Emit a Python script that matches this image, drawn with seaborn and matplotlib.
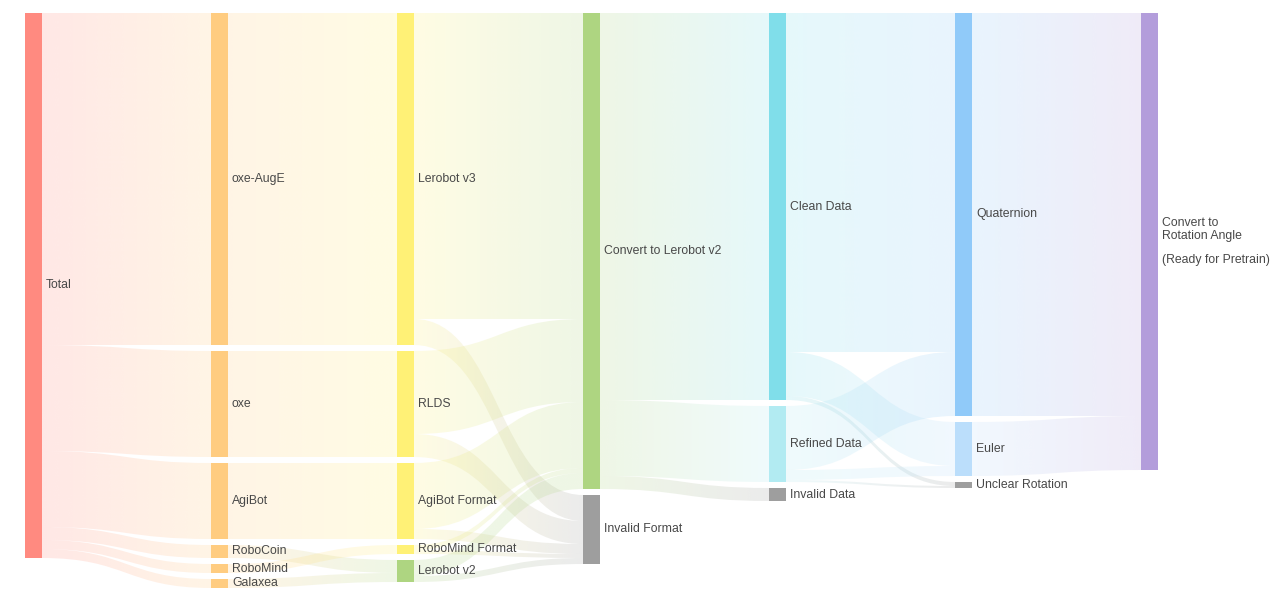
import numpy as np
import matplotlib
matplotlib.use("Agg")
import matplotlib.pyplot as plt
from matplotlib.path import Path
from matplotlib.patches import PathPatch
from matplotlib.colors import to_rgb
import seaborn as sns

# ---------------- data ----------------
col0 = ["Total"]
col1 = ["oxe-AugE", "oxe", "AgiBot", "RoboCoin", "RoboMind", "Galaxea"]
col2 = ["Lerobot v3", "RLDS", "AgiBot Format", "RoboMind Format", "Lerobot v2"]
col3 = ["Convert to Lerobot v2", "Invalid Format"]
col4 = ["Clean Data", "Refined Data", "Invalid Data"]
col5 = ["Quaternion", "Euler", "Unclear Rotation"]
col6 = ["Convert to Rotation Angle"]

node_labels = {"Convert to Rotation Angle": "Convert to\nRotation Angle\n\n(Ready for Pretrain)"}

link_source = ["Total", "Total", "Total", "Total", "Total", "Total",
               "oxe-AugE", "oxe", "AgiBot", "RoboCoin", "RoboMind", "Galaxea",
               "Lerobot v3", "Lerobot v3", "RLDS", "RLDS", "AgiBot Format", "AgiBot Format",
               "RoboMind Format", "RoboMind Format", "Lerobot v2", "Lerobot v2",
               "Convert to Lerobot v2", "Convert to Lerobot v2", "Convert to Lerobot v2",
               "Clean Data", "Clean Data", "Clean Data",
               "Refined Data", "Refined Data", "Refined Data",
               "Quaternion", "Euler"]
link_target = ["oxe-AugE", "oxe", "AgiBot", "RoboCoin", "RoboMind", "Galaxea",
               "Lerobot v3", "RLDS", "AgiBot Format", "Lerobot v2", "RoboMind Format", "Lerobot v2",
               "Convert to Lerobot v2", "Invalid Format", "Convert to Lerobot v2", "Invalid Format",
               "Convert to Lerobot v2", "Invalid Format",
               "Convert to Lerobot v2", "Invalid Format", "Convert to Lerobot v2", "Invalid Format",
               "Clean Data", "Refined Data", "Invalid Data",
               "Quaternion", "Euler", "Unclear Rotation",
               "Quaternion", "Euler", "Unclear Rotation",
               "Convert to Rotation Angle", "Convert to Rotation Angle"]
link_value = [332, 106, 76, 13, 9, 9,
              332, 106, 76, 13, 9, 9,
              306, 26, 83, 23, 66, 10,
              5, 4, 16, 6,
              387, 76, 13,
              339, 44, 4,
              64, 10, 2,
              403, 54]

node_colors = {
    "Total": "#ff8a80",
    "oxe-AugE": "#ffcc80", "oxe": "#ffcc80", "AgiBot": "#ffcc80",
    "RoboCoin": "#ffcc80", "RoboMind": "#ffcc80", "Galaxea": "#ffcc80",
    "Lerobot v3": "#fff176", "RLDS": "#fff176", "AgiBot Format": "#fff176",
    "RoboMind Format": "#fff176", "Lerobot v2": "#aed581",
    "Convert to Lerobot v2": "#aed581", "Invalid Format": "#9e9e9e",
    "Clean Data": "#80deea", "Refined Data": "#b2ebf2", "Invalid Data": "#9e9e9e",
    "Quaternion": "#90caf9", "Euler": "#bbdefb", "Unclear Rotation": "#9e9e9e",
    "Convert to Rotation Angle": "#b39ddb",
}

# ---------------- layout ----------------
sns.set_theme(style="white")
plt.rcParams["font.family"] = ["Liberation Sans", "DejaVu Sans"]

W, H, DPI = 1280, 601, 100
fig = plt.figure(figsize=(W / DPI, H / DPI), dpi=DPI)
ax = fig.add_axes([0, 0, 1, 1])

columns = [col0, col1, col2, col3, col4, col5, col6]
col_step_px = 186.0
left_px, top_px = 25.0, 13.0
node_w = 17.0 / col_step_px
gap = 6.0
link_alpha = 0.2

size = {}
for n in sum(columns, []):
    vin = sum(v for s, t, v in zip(link_source, link_target, link_value) if t == n)
    vout = sum(v for s, t, v in zip(link_source, link_target, link_value) if s == n)
    size[n] = max(vin, vout)

col_of, y0_of = {}, {}
for ci, col in enumerate(columns):
    y = 0.0
    for n in col:
        col_of[n] = ci
        y0_of[n] = y
        y += size[n] + gap

# nodes via bars
for n in size:
    ax.bar(col_of[n], size[n], bottom=y0_of[n], width=node_w, align="edge",
           color=node_colors[n], edgecolor="none", zorder=3)

# link offsets
links = list(zip(link_source, link_target, link_value))
out_off = {n: y0_of[n] for n in size}
in_off = {n: y0_of[n] for n in size}
src_pos, tgt_pos = {}, {}
order_out = sorted(range(len(links)), key=lambda i: (col_of[links[i][0]], y0_of[links[i][0]], y0_of[links[i][1]]))
for i in order_out:
    s, t, v = links[i]
    src_pos[i] = (out_off[s], out_off[s] + v)
    out_off[s] += v
order_in = sorted(range(len(links)), key=lambda i: (col_of[links[i][1]], y0_of[links[i][1]], y0_of[links[i][0]]))
for i in order_in:
    s, t, v = links[i]
    tgt_pos[i] = (in_off[t], in_off[t] + v)
    in_off[t] += v

ngrad = 256
for i, (s, t, v) in enumerate(links):
    sx = col_of[s] + node_w
    tx = col_of[t]
    xm = (sx + tx) / 2
    sy0, sy1 = src_pos[i]
    ty0, ty1 = tgt_pos[i]
    verts = [(sx, sy0), (xm, sy0), (xm, ty0), (tx, ty0), (tx, ty1),
             (xm, ty1), (xm, sy1), (sx, sy1), (sx, sy0)]
    codes = [Path.MOVETO, Path.CURVE4, Path.CURVE4, Path.CURVE4, Path.LINETO,
             Path.CURVE4, Path.CURVE4, Path.CURVE4, Path.CLOSEPOLY]
    patch = PathPatch(Path(verts, codes), facecolor="none", edgecolor="none",
                      transform=ax.transData)
    c0 = np.array(to_rgb(node_colors[s]))
    c1 = np.array(to_rgb(node_colors[t]))
    f = np.linspace(0, 1, ngrad)[:, None]
    rgb = c0 * (1 - f) + c1 * f
    img = np.concatenate([rgb, np.full((ngrad, 1), link_alpha)], axis=1)[None, :, :]
    ymin, ymax = min(sy0, ty0), max(sy1, ty1)
    im = ax.imshow(img, extent=(sx, tx, ymax, ymin), aspect="auto",
                   interpolation="bilinear", zorder=1)
    im.set_clip_path(patch)

# labels
for n in size:
    ax.text(col_of[n] + node_w + 4.0 / col_step_px, y0_of[n] + size[n] / 2,
            node_labels.get(n, n), ha="left", va="center", fontsize=8.8,
            color="#484848", linespacing=1.0, zorder=4)

ax.set_xlim(-left_px / col_step_px, (W - left_px) / col_step_px)
ax.set_ylim(H - top_px, -top_px)
ax.axis("off")
fig.savefig("out.png", dpi=DPI, facecolor="white")
